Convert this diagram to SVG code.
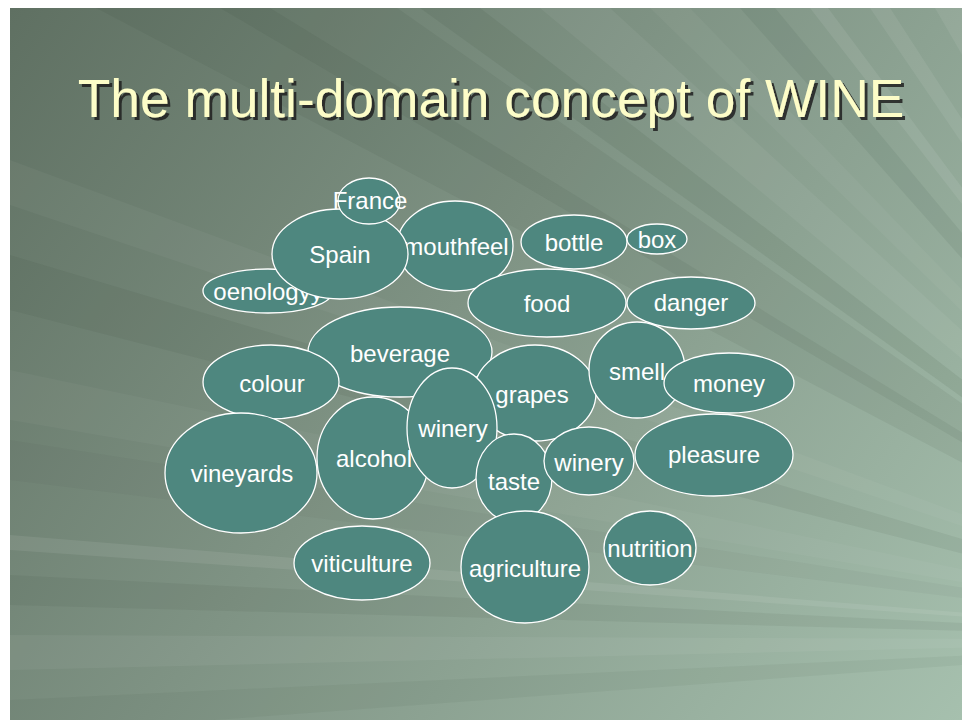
<svg xmlns="http://www.w3.org/2000/svg" width="962" height="720" viewBox="0 0 962 720">
  <defs>
    <linearGradient id="bg" x1="10" y1="8" x2="962" y2="720" gradientUnits="userSpaceOnUse">
      <stop offset="0" stop-color="#5f7062"/>
      <stop offset="0.45" stop-color="#7f9384"/>
      <stop offset="1" stop-color="#a6c0ae"/>
    </linearGradient>
    <clipPath id="slide">
      <rect x="10" y="8" width="952" height="712"/>
    </clipPath>
    <filter id="shadow" x="-5%" y="-20%" width="110%" height="140%">
      <feOffset in="SourceAlpha" dx="2.5" dy="2.5" result="off"/>
      <feFlood flood-color="#1e1e1e" flood-opacity="0.85"/>
      <feComposite in2="off" operator="in" result="sh"/>
      <feMerge><feMergeNode in="sh"/><feMergeNode in="SourceGraphic"/></feMerge>
    </filter>
    <style>
      .node ellipse { fill: #4e877f; stroke: #ffffff; stroke-width: 1.3; }
      .node text { fill: #ffffff; font-family: "Liberation Sans", Arial, sans-serif; font-size: 24px; text-anchor: middle; }
      .dark { fill: #2c3d31; }
      .light { fill: #ffffff; }
      .title { font-family: "Liberation Sans", Arial, sans-serif; font-size: 53.3px; text-anchor: middle; fill: #fdfdc8; }
    </style>
  </defs>

  <rect x="0" y="0" width="962" height="720" fill="#ffffff"/>

  <g id="background" clip-path="url(#slide)">
    <rect x="10" y="8" width="952" height="712" fill="url(#bg)"/>
    <polygon class="dark" opacity="0.07" points="1300,640 -300,-200 100,-200"/>
    <polygon class="dark" opacity="0.09" points="1300,640 420,8 480,8"/>
    <polygon class="dark" opacity="0.07" points="1300,640 220,8 270,8"/>
    <polygon class="dark" opacity="0.08" points="1300,640 740,8 775,8"/>
    <polygon class="dark" opacity="0.07" points="1300,640 10,255 10,310"/>
    <polygon class="dark" opacity="0.07" points="1300,640 10,575 10,605"/>
    <polygon class="dark" opacity="0.05" points="1300,640 10,700 10,735"/>
    <polygon class="dark" opacity="0.04" points="1300,640 10,440 10,480"/>
    <polygon class="light" opacity="0.05" points="1300,640 540,8 610,8"/>
    <polygon class="light" opacity="0.08" points="1300,640 810,8 828,8"/>
    <polygon class="light" opacity="0.07" points="1300,640 870,8 890,8"/>
    <polygon class="light" opacity="0.07" points="1300,640 935,8 962,8"/>
    <polygon class="light" opacity="0.04" points="1300,640 10,160 10,205"/>
    <polygon class="light" opacity="0.08" points="1300,640 10,535 10,550"/>
    <polygon class="light" opacity="0.05" points="1300,640 10,635 10,670"/>
    <polygon class="light" opacity="0.035" points="1300,640 10,370 10,420"/>
    <polygon class="light" opacity="0.04" points="1300,640 650,8 690,8"/>
  </g>

  <g id="title">
    <text class="title" x="491" y="117" filter="url(#shadow)">The multi-domain concept of WINE</text>
  </g>

  <g id="connectors"></g>

  <g id="nodes">
    <g id="n-oenology" class="node"><ellipse cx="268" cy="291" rx="65" ry="22"/><text x="268" y="300">oenologyy</text></g>
    <g id="n-mouthfeel" class="node"><ellipse cx="455" cy="246" rx="58" ry="45"/><text x="456" y="255">mouthfeel</text></g>
    <g id="n-spain" class="node"><ellipse cx="340" cy="254" rx="68" ry="45"/><text x="340" y="263">Spain</text></g>
    <g id="n-france" class="node"><ellipse cx="369" cy="201" rx="31" ry="23"/><text x="370" y="209">France</text></g>
    <g id="n-bottle" class="node"><ellipse cx="574" cy="242" rx="53" ry="27"/><text x="574" y="251">bottle</text></g>
    <g id="n-box" class="node"><ellipse cx="657" cy="239" rx="30" ry="15"/><text x="657" y="248">box</text></g>
    <g id="n-food" class="node"><ellipse cx="547" cy="303" rx="79" ry="34"/><text x="547" y="312">food</text></g>
    <g id="n-danger" class="node"><ellipse cx="691" cy="303" rx="64" ry="26"/><text x="691" y="311">danger</text></g>
    <g id="n-beverage" class="node"><ellipse cx="400" cy="352" rx="92" ry="45"/><text x="400" y="362">beverage</text></g>
    <g id="n-colour" class="node"><ellipse cx="271" cy="382" rx="68" ry="37"/><text x="272" y="392">colour</text></g>
    <g id="n-vineyards" class="node"><ellipse cx="241" cy="473" rx="76" ry="60"/><text x="242" y="482">vineyards</text></g>
    <g id="n-alcohol" class="node"><ellipse cx="373" cy="458" rx="56" ry="61"/><text x="374" y="467">alcohol</text></g>
    <g id="n-grapes" class="node"><ellipse cx="535" cy="393" rx="61" ry="48"/><text x="532" y="403">grapes</text></g>
    <g id="n-winery1" class="node"><ellipse cx="452" cy="428" rx="45" ry="60"/><text x="453" y="437">winery</text></g>
    <g id="n-taste" class="node"><ellipse cx="514" cy="478" rx="38" ry="44"/><text x="514" y="490">taste</text></g>
    <g id="n-winery2" class="node"><ellipse cx="589" cy="461" rx="45" ry="34"/><text x="589" y="471">winery</text></g>
    <g id="n-smell" class="node"><ellipse cx="637" cy="370" rx="48" ry="48"/><text x="637" y="380">smell</text></g>
    <g id="n-money" class="node"><ellipse cx="729" cy="383" rx="65" ry="30"/><text x="729" y="392">money</text></g>
    <g id="n-pleasure" class="node"><ellipse cx="714" cy="455" rx="79" ry="41"/><text x="714" y="463">pleasure</text></g>
    <g id="n-viticulture" class="node"><ellipse cx="362" cy="563" rx="68" ry="37"/><text x="362" y="572">viticulture</text></g>
    <g id="n-agriculture" class="node"><ellipse cx="525" cy="567" rx="64" ry="56"/><text x="525" y="577">agriculture</text></g>
    <g id="n-nutrition" class="node"><ellipse cx="650" cy="548" rx="46" ry="37"/><text x="650" y="557">nutrition</text></g>
  </g>
</svg>
